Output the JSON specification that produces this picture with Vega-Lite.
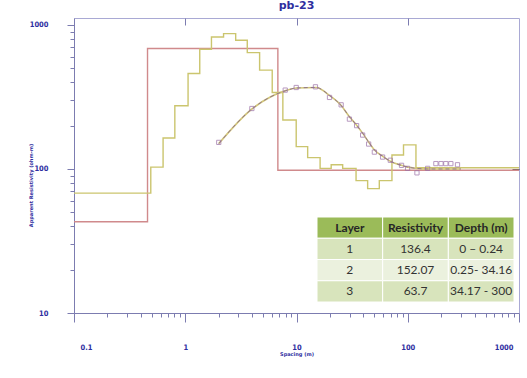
{
  "$schema": "https://vega.github.io/schema/vega-lite/v6.json",
  "width": 445,
  "height": 295,
  "autosize": {"type": "none"},
  "padding": {"left": 74, "top": 18, "right": 8, "bottom": 65},
  "background": "white",
  "title": {
    "text": "pb-23",
    "fontSize": 11,
    "fontWeight": "bold",
    "font": "DejaVu Sans",
    "color": "#2e2ea0",
    "anchor": "middle",
    "baseline": "bottom",
    "offset": -4
  },
  "datasets": {
    "model": [
      {"spacing": 0.1, "rho": 43},
      {"spacing": 0.458, "rho": 686},
      {"spacing": 6.8, "rho": 98},
      {"spacing": 1000, "rho": 98}
    ],
    "staircase": [
      {"spacing": 0.1, "rho": 68},
      {"spacing": 0.49, "rho": 103},
      {"spacing": 0.632, "rho": 164},
      {"spacing": 0.806, "rho": 275},
      {"spacing": 1.06, "rho": 460},
      {"spacing": 1.35, "rho": 679},
      {"spacing": 1.72, "rho": 826},
      {"spacing": 2.21, "rho": 871},
      {"spacing": 2.84, "rho": 784},
      {"spacing": 3.61, "rho": 643},
      {"spacing": 4.66, "rho": 486},
      {"spacing": 6.05, "rho": 340},
      {"spacing": 7.54, "rho": 219},
      {"spacing": 9.94, "rho": 143},
      {"spacing": 12.6, "rho": 120},
      {"spacing": 16.3, "rho": 101},
      {"spacing": 20.5, "rho": 107},
      {"spacing": 26.0, "rho": 101},
      {"spacing": 34.3, "rho": 83},
      {"spacing": 43.6, "rho": 73},
      {"spacing": 55.5, "rho": 83},
      {"spacing": 72.1, "rho": 125},
      {"spacing": 91.6, "rho": 147},
      {"spacing": 118.5, "rho": 102},
      {"spacing": 1000, "rho": 102}
    ],
    "observed": [
      {"spacing": 2.0, "rho": 153},
      {"spacing": 3.97, "rho": 263},
      {"spacing": 7.92, "rho": 353},
      {"spacing": 9.94, "rho": 368},
      {"spacing": 14.8, "rho": 372},
      {"spacing": 19.8, "rho": 314},
      {"spacing": 25.2, "rho": 279},
      {"spacing": 29.9, "rho": 222},
      {"spacing": 34.7, "rho": 200},
      {"spacing": 39.3, "rho": 172},
      {"spacing": 44.5, "rho": 149},
      {"spacing": 50.1, "rho": 131},
      {"spacing": 59.4, "rho": 121},
      {"spacing": 69.7, "rho": 115},
      {"spacing": 87.9, "rho": 106},
      {"spacing": 99.6, "rho": 101},
      {"spacing": 121, "rho": 94},
      {"spacing": 151, "rho": 101},
      {"spacing": 179, "rho": 109},
      {"spacing": 199, "rho": 109},
      {"spacing": 220, "rho": 109},
      {"spacing": 244, "rho": 109},
      {"spacing": 280, "rho": 107}
    ],
    "calculated": [
      {"spacing": 2.0, "rho": 150},
      {"spacing": 4.0, "rho": 262},
      {"spacing": 8.0, "rho": 350},
      {"spacing": 10, "rho": 365},
      {"spacing": 15, "rho": 368},
      {"spacing": 20, "rho": 322},
      {"spacing": 25, "rho": 278},
      {"spacing": 30, "rho": 230},
      {"spacing": 35, "rho": 200},
      {"spacing": 40, "rho": 174},
      {"spacing": 45, "rho": 152},
      {"spacing": 50, "rho": 136},
      {"spacing": 60, "rho": 122},
      {"spacing": 70, "rho": 113},
      {"spacing": 88, "rho": 106},
      {"spacing": 100, "rho": 103},
      {"spacing": 120, "rho": 101},
      {"spacing": 150, "rho": 100},
      {"spacing": 200, "rho": 100},
      {"spacing": 300, "rho": 100}
    ],
    "layers": [
      {"row": "0", "col": "Layer", "text": "Layer"},
      {"row": "0", "col": "Resistivity", "text": "Resistivity"},
      {"row": "0", "col": "Depth (m)", "text": "Depth (m)"},
      {"row": "1", "col": "Layer", "text": "1"},
      {"row": "1", "col": "Resistivity", "text": "136.4"},
      {"row": "1", "col": "Depth (m)", "text": "0 – 0.24"},
      {"row": "2", "col": "Layer", "text": "2"},
      {"row": "2", "col": "Resistivity", "text": "152.07"},
      {"row": "2", "col": "Depth (m)", "text": "0.25- 34.16"},
      {"row": "3", "col": "Layer", "text": "3"},
      {"row": "3", "col": "Resistivity", "text": "63.7"},
      {"row": "3", "col": "Depth (m)", "text": "34.17 - 300"}
    ]
  },
  "layer": [
    {
      "layer": [
        {
          "data": {"name": "model"},
          "mark": {"type": "line", "interpolate": "step-after", "color": "#d08a8c", "strokeWidth": 1.4},
          "encoding": {
            "x": {
              "field": "spacing", "type": "quantitative",
              "scale": {"type": "log", "domain": [0.1, 1000], "nice": false},
              "axis": {
                "orient": "bottom", "values": [0.1, 1, 10, 100, 1000], "format": "~g",
                "tickSize": 9, "labelPadding": 21, "labelFlush": true, "labelFlushOffset": -6,
                "title": "Spacing (m)", "titleFontSize": 5, "titlePadding": 1
              }
            },
            "y": {
              "field": "rho", "type": "quantitative",
              "scale": {"type": "log", "domain": [10, 1118], "nice": false},
              "axis": {
                "orient": "left", "values": [10, 100, 1000], "format": "~g",
                "tickSize": 7, "labelPadding": 19, "labelFlush": true,
                "labelAlign": "right", "labelBaseline": "middle",
                "title": "Apparent Resistivity (ohm-m)", "titleFontSize": 5,
                "titleX": -44, "titleY": 167, "titleAngle": -90,
                "titleAlign": "center", "titleBaseline": "middle"
              }
            }
          }
        },
        {
          "data": {"name": "staircase"},
          "mark": {"type": "line", "interpolate": "step-after", "color": "#cbc56e", "strokeWidth": 1.4},
          "encoding": {
            "x": {
              "field": "spacing", "type": "quantitative",
              "axis": {
                "orient": "bottom",
                "values": [0.2, 0.3, 0.4, 0.5, 0.6, 0.7, 0.8, 0.9, 2, 3, 4, 5, 6, 7, 8, 9, 20, 30, 40, 50, 60, 70, 80, 90, 200, 300, 400, 500, 600, 700, 800, 900],
                "tickSize": 4, "labels": false, "domain": false, "title": null
              }
            },
            "y": {
              "field": "rho", "type": "quantitative",
              "axis": {
                "orient": "left",
                "values": [20, 30, 40, 50, 60, 70, 80, 90, 200, 300, 400, 500, 600, 700, 800, 900],
                "tickSize": 4, "labels": false, "domain": false, "title": null
              }
            }
          }
        },
        {
          "data": {"name": "calculated"},
          "mark": {"type": "line", "interpolate": "monotone", "color": "#d3c77a", "strokeWidth": 1.6},
          "encoding": {
            "x": {"field": "spacing", "type": "quantitative", "axis": null},
            "y": {"field": "rho", "type": "quantitative", "axis": null}
          }
        },
        {
          "data": {"name": "calculated"},
          "mark": {"type": "line", "interpolate": "monotone", "color": "#7d5f8d", "strokeWidth": 1, "strokeDash": [4, 3], "opacity": 0.8},
          "encoding": {
            "x": {"field": "spacing", "type": "quantitative", "axis": null},
            "y": {"field": "rho", "type": "quantitative", "axis": null}
          }
        },
        {
          "data": {"name": "observed"},
          "mark": {"type": "point", "shape": "square", "size": 18, "filled": false, "color": "#9a6fa6", "strokeWidth": 1},
          "encoding": {
            "x": {
              "field": "spacing", "type": "quantitative",
              "axis": {
                "orient": "top", "values": [1, 10, 100], "tickSize": -7,
                "labels": false, "domain": false, "title": null
              }
            },
            "y": {
              "field": "rho", "type": "quantitative",
              "axis": {
                "orient": "right", "values": [100], "tickSize": -7, "tickColor": "#555555",
                "labels": false, "domain": false, "title": null
              }
            }
          }
        }
      ],
      "resolve": {"axis": {"x": "independent", "y": "independent"}}
    },
    {
      "data": {"name": "layers"},
      "layer": [
        {
          "mark": {"type": "rect", "stroke": "white", "strokeWidth": 1},
          "encoding": {
            "color": {
              "field": "row", "type": "nominal",
              "scale": {"domain": ["0", "1", "2", "3"], "range": ["#9bbb59", "#d8e4bc", "#ebf1de", "#d8e4bc"]},
              "legend": null
            }
          }
        },
        {
          "transform": [{"filter": "datum.row == '0'"}],
          "mark": {"type": "text", "font": "Lato", "fontSize": 12, "fontWeight": "bold", "color": "#262626"},
          "encoding": {"text": {"field": "text"}}
        },
        {
          "transform": [{"filter": "datum.row != '0'"}],
          "mark": {"type": "text", "font": "Lato", "fontSize": 12, "color": "#333333"},
          "encoding": {"text": {"field": "text"}}
        }
      ],
      "encoding": {
        "x": {
          "field": "col", "type": "nominal",
          "scale": {"type": "band", "domain": ["Layer", "Resistivity", "Depth (m)"], "range": [243, 440], "paddingInner": 0, "paddingOuter": 0},
          "axis": null
        },
        "y": {
          "field": "row", "type": "nominal",
          "scale": {"type": "band", "domain": ["0", "1", "2", "3"], "range": [199, 284], "paddingInner": 0, "paddingOuter": 0},
          "axis": null
        }
      }
    }
  ],
  "resolve": {
    "scale": {"x": "independent", "y": "independent", "color": "independent"},
    "axis": {"x": "independent", "y": "independent"}
  },
  "config": {
    "view": {"stroke": "#a9a9d4", "strokeWidth": 1},
    "axis": {
      "grid": false,
      "domainColor": "#7c7cb0",
      "tickColor": "#7c7cb0",
      "labelColor": "#2e2ea0",
      "labelFont": "DejaVu Sans Condensed",
      "labelFontSize": 7.5,
      "labelFontWeight": "bold",
      "titleColor": "#2e2ea0",
      "titleFont": "DejaVu Sans",
      "titleFontWeight": "bold"
    }
  }
}
